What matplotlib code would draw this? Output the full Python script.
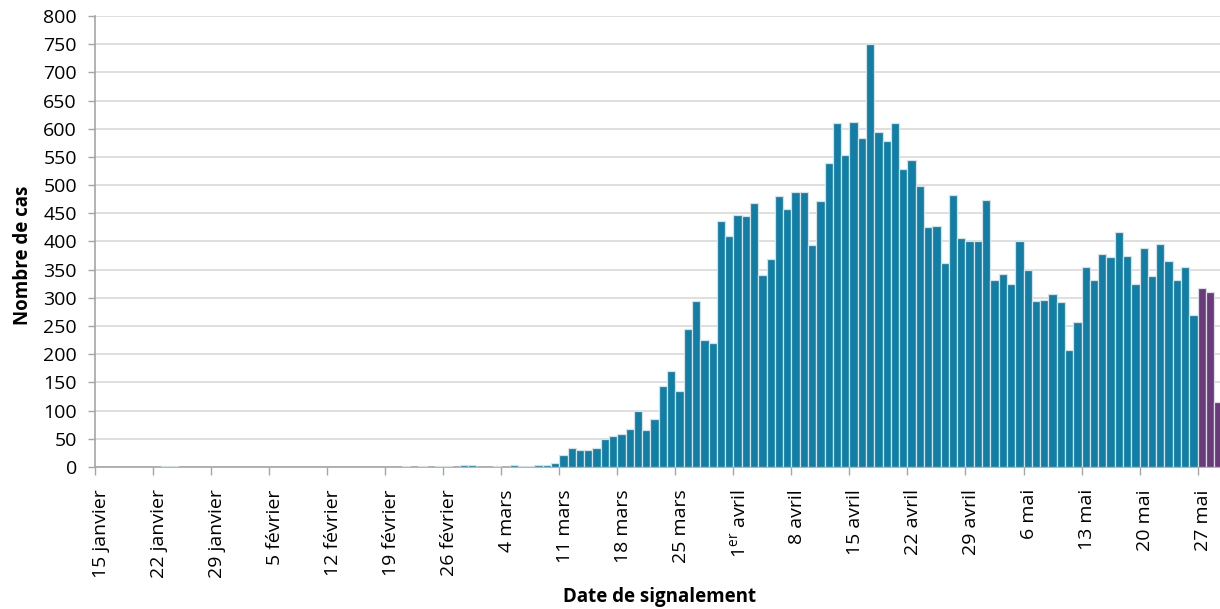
import numpy as np
import matplotlib.pyplot as plt
from matplotlib.ticker import FixedLocator, NullFormatter

plt.rcParams['font.family'] = ['Open Sans', 'DejaVu Sans']
plt.rcParams['mathtext.fontset'] = 'custom'
plt.rcParams['mathtext.rm'] = 'Open Sans'

# daily counts from 15 janvier (index 0) to 29 mai (index 135)
cases = [
    0, 0, 0, 0, 0, 0, 0, 0, 1, 1,            # 15-24 jan
    0, 0, 0, 0, 0, 0, 0, 0, 0, 0,            # 25 jan - 3 fev
    0, 0, 0, 0, 0, 0, 0, 0, 0, 0,            # 4-13 fev
    0, 0, 0, 0, 0, 0, 0, 1, 0, 1,            # 14-23 fev
    0, 1, 1, 0, 3, 3, 0, 0, 1, 0,            # 24 fev - 4 mars
    3, 1, 1, 4, 4, 7, 21, 33, 31, 31,        # 5-14 mars
    33, 49, 55, 58, 68, 99, 66, 85, 144, 171,  # 15-24 mars
    134, 245, 295, 225, 220, 437, 410, 447, 445, 468,  # 25 mars - 3 avr
    340, 369, 480, 458, 488, 488, 393, 472, 540, 610,  # 4-13 avr
    554, 612, 583, 750, 595, 579, 610, 529, 545, 499,  # 14-23 avr
    426, 428, 362, 482, 407, 401, 401, 473, 331, 343,  # 24 avr - 3 mai
    325, 401, 350, 294, 296, 306, 292, 208, 257, 354,  # 4-13 mai
    331, 378, 372, 416, 374, 325, 389, 339, 395, 366,  # 14-23 mai
    331, 354, 270, 317, 311, 115,                      # 24-29 mai
]
n_partial = 3  # last days, incomplete data

tick_labels = ["15 janvier", "22 janvier", "29 janvier", "5 février", "12 février",
               "19 février", "26 février", "4 mars", "11 mars", "18 mars", "25 mars",
               "1$^{\\rm er}$ avril", "8 avril", "15 avril", "22 avril", "29 avril",
               "6 mai", "13 mai", "20 mai", "27 mai"]

blue = '#117ea6'
purple = '#6b3a7a'

cases = np.array(cases)
days = np.arange(len(cases))
colors = np.array([blue] * (len(cases) - n_partial) + [purple] * n_partial)
nz = cases > 0

fig = plt.figure(figsize=(12.2, 6.09), dpi=100)
ax = fig.add_axes([0.0779, 0.2332, 0.9221, 0.7406])

ax.bar(days[nz], cases[nz], width=1.0, align='edge', color=colors[nz],
       edgecolor='#d8e0e4', linewidth=0.9, zorder=3)

ax.set_xlim(0, 135.7)
ax.set_ylim(0, 800)
ax.set_yticks(np.arange(0, 801, 50))
ax.yaxis.grid(True, color='#d9d9d9', linewidth=1.2, zorder=0)

tick_pos = np.arange(len(tick_labels)) * 7
ax.xaxis.set_major_locator(FixedLocator(tick_pos))
ax.xaxis.set_major_formatter(NullFormatter())
ax.xaxis.set_minor_locator(FixedLocator(tick_pos + 0.7))
ax.set_xticklabels(tick_labels, minor=True, rotation=90, fontsize=14)
ax.tick_params(axis='x', which='major', length=6, color='#a6a6a6', width=1)
ax.tick_params(axis='x', which='minor', length=0, pad=16)
ax.tick_params(axis='y', length=5, color='#a6a6a6', width=1, pad=8, labelsize=14)

for s in ['top', 'right']:
    ax.spines[s].set_visible(False)
for s in ['left', 'bottom']:
    ax.spines[s].set_color('#a6a6a6')
    ax.spines[s].set_linewidth(1.2)

ax.set_ylabel("Nombre de cas", fontsize=13.5, fontweight='bold')
ax.yaxis.set_label_coords(-0.055, 0.47)
fig.text(0.541, 0.02, "Date de signalement", fontsize=13.5, fontweight='bold',
         ha='center', va='center')

fig.savefig("out.png", dpi=100)
